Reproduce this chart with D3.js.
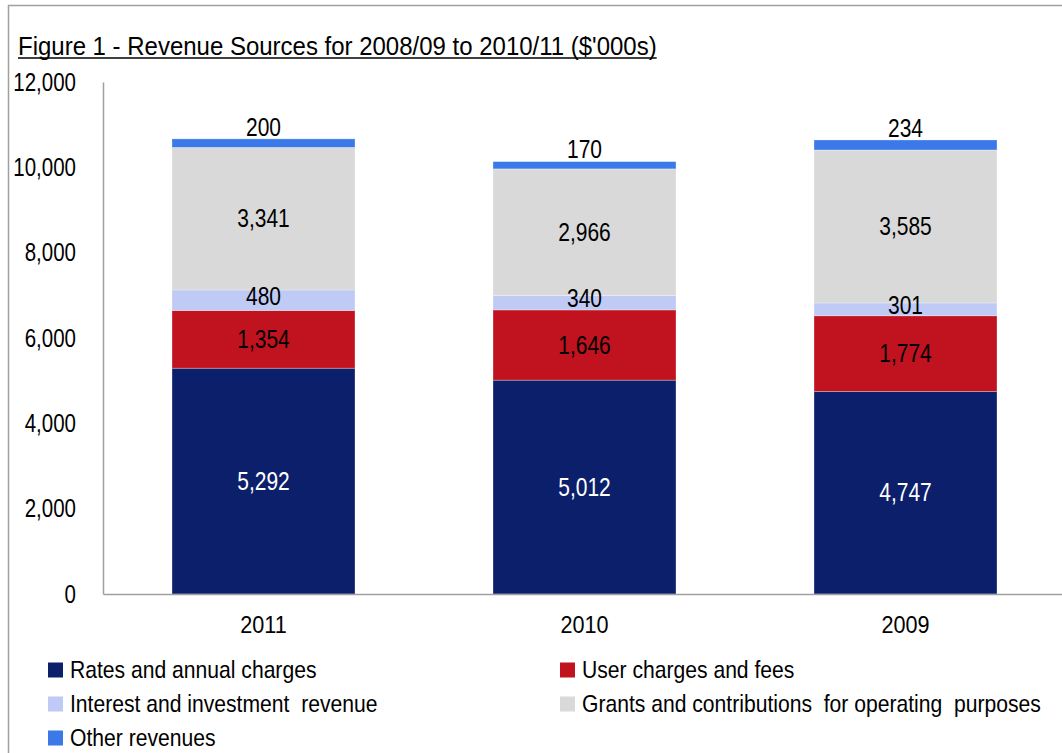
<!DOCTYPE html>
<html>
<head>
<meta charset="utf-8">
<script src="https://cdn.jsdelivr.net/npm/d3@7"></script>
<style>
  html, body { margin: 0; padding: 0; background: #fff; }
  svg { display: block; }
  text { font-family: "Liberation Sans", Arial, sans-serif; fill: #000; }
</style>
</head>
<body>
<svg id="chart" width="1062" height="753"></svg>
<script>
// Revenue figures in $'000s, one array per source, ordered like the years
const years = ["2011", "2010", "2009"];
const rates = [5292, 5012, 4747];
const userCharges = [1354, 1646, 1774];
const interest = [480, 340, 301];
const grants = [3341, 2966, 3585];
const otherRevenue = [200, 170, 234];

const seriesNames = [
  "Rates and annual charges",
  "User charges and fees",
  "Interest and investment  revenue",
  "Grants and contributions  for operating  purposes",
  "Other revenues"
];
const yTicks = [0, 2000, 4000, 6000, 8000, 10000, 12000];
const title = "Figure 1 - Revenue Sources for 2008/09 to 2010/11 ($'000s)";

const colors = ["#0c1f6b", "#c1131f", "#bfcaf5", "#d9d9d9", "#3b79e8"];
const labelColors = ["#fff", "#000", "#000", "#000", "#000"];

const seriesValues = [rates, userCharges, interest, grants, otherRevenue];
const rows = years.map((y, i) => {
  const r = { year: y };
  seriesNames.forEach((n, k) => { r[n] = seriesValues[k][i]; });
  return r;
});

// horizontally condense text around its anchor x
function squeeze(sel, k) {
  sel.each(function () {
    const el = d3.select(this);
    const ax = +el.attr("x") || 0;
    el.attr("transform", `translate(${ax},0) scale(${k},1) translate(${-ax},0)`);
  });
}

const svg = d3.select("#chart");

// outer frame
svg.append("path")
  .attr("d", "M8.5,760 V5.5 H1070")
  .attr("fill", "none").attr("stroke", "#a0a0a0").attr("stroke-width", 1.5);

// title, underlined
const t = svg.append("text")
  .attr("x", 18).attr("y", 55)
  .attr("font-size", 26)
  .text(title)
  .call(squeeze, 0.923);
const tw = t.node().getComputedTextLength() * 0.923;
svg.append("line")
  .attr("x1", 18).attr("x2", 18 + tw)
  .attr("y1", 58).attr("y2", 58)
  .attr("stroke", "#000").attr("stroke-width", 1.6);

const x = d3.scaleBand().domain(years).range([103, 1066]).paddingInner(0.43).paddingOuter(0.215);
const y = d3.scaleLinear().domain([0, 12000]).range([594, 82]);

// axes
const yAxis = svg.append("g").attr("transform", "translate(103,0)")
  .call(d3.axisLeft(y).tickValues(yTicks).tickSize(0).tickPadding(27).tickFormat(d3.format(",")));
yAxis.select(".domain").attr("stroke", "#a0a0a0").attr("stroke-width", 1.5);
yAxis.selectAll("text").attr("font-size", 25).attr("font-family", null).call(squeeze, 0.82);

const stack = d3.stack().keys(seriesNames)(rows);

const layers = svg.append("g").selectAll("g").data(stack).join("g")
  .attr("fill", (d, i) => colors[i]);
layers.selectAll("rect").data(d => d).join("rect")
  .attr("x", d => x(d.data.year))
  .attr("width", x.bandwidth())
  .attr("y", d => y(d[1]))
  .attr("height", d => y(d[0]) - y(d[1]))
  .attr("stroke", "rgba(255,255,255,0.35)").attr("stroke-width", 0.8);

const xAxis = svg.append("g").attr("transform", "translate(0,594)")
  .call(d3.axisBottom(x).tickSize(0).tickPadding(22));
xAxis.select(".domain").attr("stroke", "#a0a0a0").attr("stroke-width", 1.5);
xAxis.selectAll("text").attr("font-size", 24).attr("font-family", null).call(squeeze, 0.9);

// value labels
const fmt = d3.format(",");
const labelShift = [0, 0, -4, 0, null];
stack.forEach((layer, i) => {
  svg.append("g").selectAll("text").data(layer).join("text")
    .attr("x", d => x(d.data.year) + x.bandwidth() / 2)
    .attr("y", d => labelShift[i] === null ? y(d[1]) - 12 : (y(d[0]) + y(d[1])) / 2 + labelShift[i])
    .attr("text-anchor", "middle")
    .attr("dominant-baseline", "central")
    .attr("font-size", 25)
    .style("fill", labelColors[i])
    .text(d => fmt(d[1] - d[0]))
    .call(squeeze, 0.84);
});

// legend
const legendPos = [
  [48, 670], [560, 670],
  [48, 704], [560, 704],
  [48, 738]
];
const legend = svg.append("g").selectAll("g").data(seriesNames).join("g")
  .attr("transform", (d, i) => `translate(${legendPos[i][0]},${legendPos[i][1]})`);
legend.append("rect")
  .attr("x", 0).attr("y", -7.5).attr("width", 15).attr("height", 15)
  .attr("fill", (d, i) => colors[i]);
legend.append("text")
  .attr("x", 22).attr("y", 0)
  .attr("dominant-baseline", "central")
  .attr("font-size", 24)
  .attr("xml:space", "preserve")
  .style("white-space", "pre")
  .text(d => d)
  .call(squeeze, 0.88);
</script>
</body>
</html>
